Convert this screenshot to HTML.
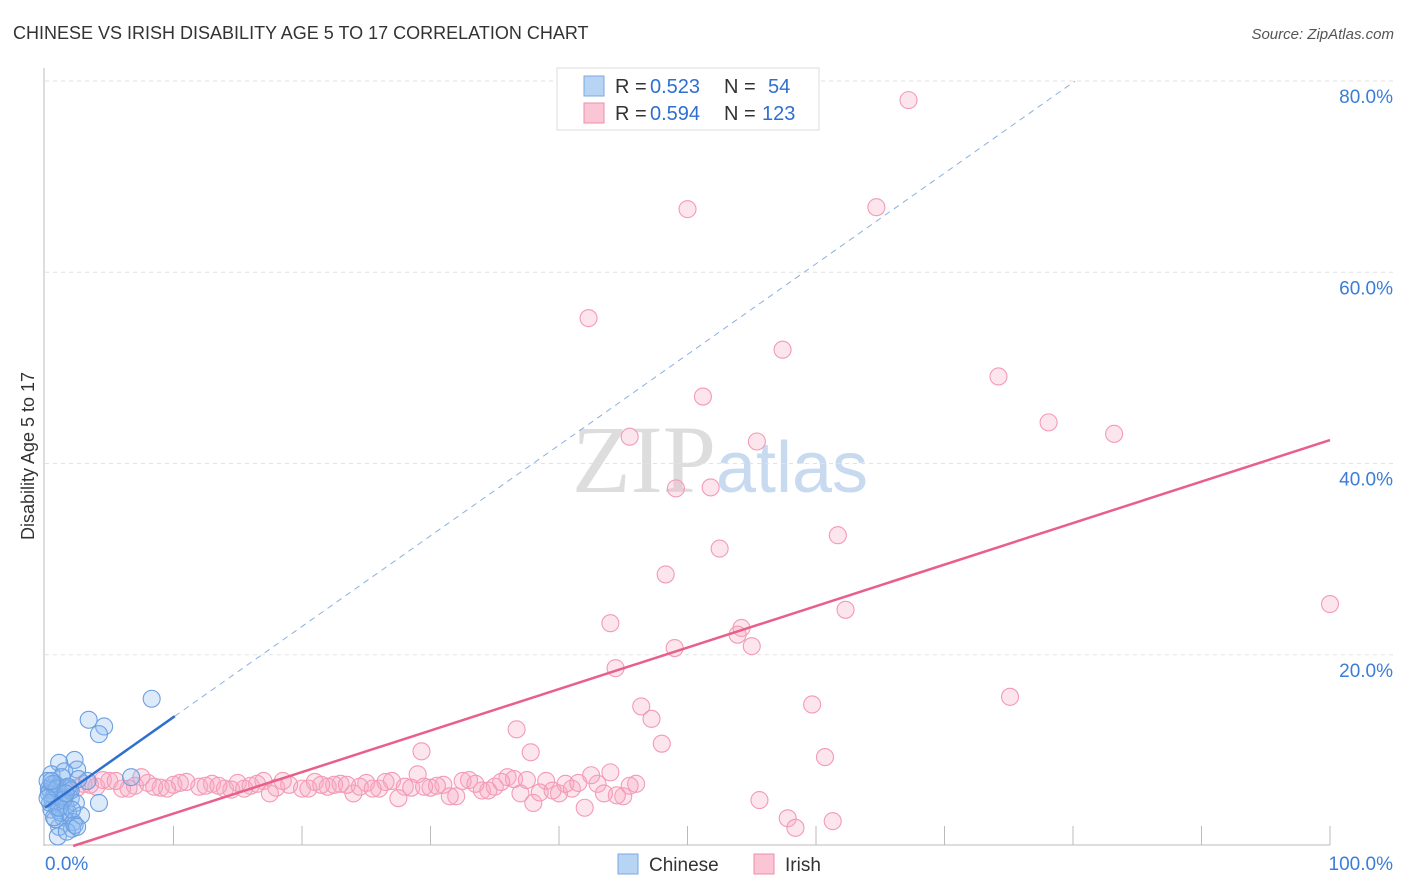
<!DOCTYPE html>
<html><head><meta charset="utf-8"><style>
body{margin:0;background:#fff;font-family:"Liberation Sans",sans-serif}
#wrap{position:relative;width:1406px;height:892px;overflow:hidden}
</style></head><body><div id="wrap">
<svg id="svg" width="1406" height="892" xmlns="http://www.w3.org/2000/svg">
<text x="13" y="39" font-size="18" fill="#333">CHINESE VS IRISH DISABILITY AGE 5 TO 17 CORRELATION CHART</text>
<text x="1394" y="39" font-size="15" fill="#555" font-style="italic" text-anchor="end">Source: ZipAtlas.com</text>
<text x="34" y="456" font-size="18" fill="#333" transform="rotate(-90 34 456)" text-anchor="middle">Disability Age 5 to 17</text>
<text x="720" y="492" font-size="96" fill="#ddd" text-anchor="middle" font-family="Liberation Serif,serif">ZIP<tspan fill="#c8daf0" font-family="Liberation Sans,sans-serif" font-size="72">atlas</tspan></text>
<g id="grid"></g><g id="marks"></g>
<g>
<rect x="557" y="68" width="262" height="62" fill="#fff" stroke="#ddd"/>
<rect x="584" y="76" width="20" height="20" fill="#b8d4f4" stroke="#7aa9e0"/>
<rect x="584" y="103" width="20" height="20" fill="#fac5d4" stroke="#ef8eaa"/>
<g font-size="20" fill="#333">
<text x="615" y="93">R =</text><text x="650" y="93" fill="#2f6fd0">0.523</text><text x="724" y="93">N =</text><text x="768" y="93" fill="#2f6fd0">54</text></g>
<g font-size="20" fill="#333">
<text x="615" y="120">R =</text><text x="650" y="120" fill="#2f6fd0">0.594</text><text x="724" y="120">N =</text><text x="762" y="120" fill="#2f6fd0">123</text></g>
</g>
<g>
<rect x="618" y="854" width="20" height="20" fill="#b8d4f4" stroke="#7aa9e0"/>
<text x="649" y="871" font-size="19" fill="#333">Chinese</text>
<rect x="754" y="854" width="20" height="20" fill="#fac5d4" stroke="#ef8eaa"/>
<text x="785" y="871" font-size="19" fill="#333">Irish</text>
</g>
</svg>
<script>
const yTicks=[20,40,60,80];
const yTickLabels=["20.0%","40.0%","60.0%","80.0%"];
const xTickLabels=["0.0%","100.0%"];
const chineseX=[8.3,3.4,4.6,4.2,2.3,1.1,6.7,4.2,3.3,0.5,0.8,1.2,1.5,2.0,2.5,0.3,0.6,1.0,1.8,2.2,0.4,0.9,1.4,2.6,0.2,0.7,1.6,2.1,1.3,0.5,1.1,1.9,2.4,0.3,0.8,1.5,2.8,1.0,0.6,1.7,2.3,0.4,1.2,2.0,0.9,1.4,0.2,1.8,2.5,0.7,1.1,1.6,0.5,2.1];
const chineseY=[15.4,13.2,12.5,11.7,9.0,8.7,7.2,4.5,6.8,7.5,6.5,5.5,7.8,5.0,8.0,6.0,4.8,6.2,3.5,2.5,5.8,4.0,3.0,7.0,6.8,5.2,4.2,1.8,7.2,3.8,2.0,6.0,4.5,5.5,2.8,5.0,3.2,1.0,6.5,1.5,2.2,4.5,3.5,5.8,6.0,4.8,5.0,6.2,2.0,3.0,4.0,5.5,6.8,3.8];
const irishX=[67.2,50.0,64.7,42.3,57.4,51.2,74.2,78.1,83.2,45.5,55.4,49.1,51.8,52.5,61.7,48.3,62.3,100,44.0,54.2,53.9,55.0,49.0,44.4,75.1,46.4,59.7,47.2,36.7,48.0,29.3,37.8,60.7,55.6,57.8,58.4,61.3,
1.5,3,4,5,6,7,8,9,10,11,12,13,14,15,16,17,18,19,20,21,22,23,24,25,26,27,28,29,30,31,32,33,34,35,36,37,38,39,40,41,42,43,44,45,46,2.5,3.5,4.5,6.5,8.5,10.5,12.5,14.5,16.5,18.5,20.5,22.5,24.5,26.5,28.5,30.5,32.5,34.5,36.5,38.5,40.5,42.5,44.5,5.5,9.5,13.5,17.5,21.5,25.5,29.5,33.5,37.5,41.5,45.5,7.5,15.5,23.5,31.5,35.5,39.5,43.5,27.5];
const irishY=[78.0,66.6,66.8,55.2,51.9,47.0,49.1,44.3,43.1,42.8,42.3,37.4,37.5,31.1,32.5,28.4,24.7,25.3,23.3,22.8,22.1,20.9,20.7,18.6,15.6,14.6,14.8,13.3,12.2,10.7,9.9,9.8,9.3,4.8,2.9,1.9,2.6,
6.0,6.5,6.2,6.8,6.0,6.3,6.6,6.1,6.4,6.7,6.2,6.5,6.0,6.6,6.3,6.8,6.1,6.4,6.0,6.7,6.2,6.5,5.5,6.6,6.0,6.8,6.2,7.5,6.1,6.4,5.2,6.9,5.8,6.2,7.2,5.5,4.5,6.8,5.5,6.0,4.0,6.5,7.7,5.2,6.5,6.1,6.4,6.9,6.0,6.2,6.6,6.3,5.9,6.5,6.8,6.0,6.4,6.2,6.7,6.1,6.3,6.8,5.8,7.0,5.6,6.5,7.4,5.3,6.8,6.0,6.3,5.5,6.4,6.0,6.2,6.5,6.9,6.6,6.3,7.2,6.0,6.4,5.2,6.7,5.8,5.5,5.0,6.0];
const blueLine=[4.0,0.948]; // intercept, slope
const pinkLine=[-0.95,0.434];
const X0=45,X1=1330,Y0=846,Y80=81;
const sx=v=>X0+(X1-X0)*v/100, sy=v=>Y0-(Y0-Y80)*v/80;
const NS="http://www.w3.org/2000/svg";
const grid=document.getElementById('grid'),marks=document.getElementById('marks');
function mk(tag,attrs,parent){const e=document.createElementNS(NS,tag);for(const k in attrs)e.setAttribute(k,attrs[k]);parent.appendChild(e);return e;}
yTicks.forEach((t,i)=>{
 const l=mk('line',{x1:X0,x2:1394,y1:sy(t),y2:sy(t),stroke:'#e2e2e2','stroke-dasharray':'4,4'},grid);
 
 
 const tx=mk('text',{x:1393,y:sy(t)+22,'font-size':19,fill:'#3b7dd8','text-anchor':'end'},grid);
 tx.textContent=yTickLabels[i];
 
 
});
const ax=mk('line',{x1:44,x2:44,y1:68,y2:846,stroke:'#bbb'},grid);


const bx=mk('line',{x1:44,x2:1330,y1:845,y2:845,stroke:'#bbb'},grid);


for(let i=1;i<=10;i++){const t=mk('line',{x1:sx(i*10),x2:sx(i*10),y1:826,y2:845,stroke:'#bbb'},grid);
 
 }
[[0,'start',45],[100,'end',1393]].forEach((d,i)=>{const t=mk('text',{x:d[2],y:870,'font-size':19,fill:'#3b7dd8','text-anchor':d[1]},grid);t.textContent=xTickLabels[i];
 
 });
irishX.forEach((x,i)=>{const c=mk('circle',{cx:sx(x),cy:sy(irishY[i]),r:8.5,fill:'rgba(248,170,195,0.3)',stroke:'#f39ab5','stroke-width':1.1},marks);
 
 });
chineseX.forEach((x,i)=>{const c=mk('circle',{cx:sx(x),cy:sy(chineseY[i]),r:8.5,fill:'rgba(140,185,240,0.3)',stroke:'#6a9fe2','stroke-width':1.1},marks);
 
 });
const bx2=(80-blueLine[0])/blueLine[1];
const bd=mk('line',{x1:sx(10.1),y1:sy(blueLine[0]+blueLine[1]*10.1),x2:sx(bx2),y2:sy(80),stroke:'#8ab0e0','stroke-dasharray':'6,5','stroke-width':1},marks);


const bl=mk('line',{x1:sx(0),y1:sy(blueLine[0]),x2:sx(10.1),y2:sy(blueLine[0]+blueLine[1]*10.1),stroke:'#2f6fd0','stroke-width':2.5},marks);


const px0=-pinkLine[0]/pinkLine[1];
const pl=mk('line',{x1:sx(px0),y1:sy(0),x2:sx(100),y2:sy(pinkLine[0]+pinkLine[1]*100),stroke:'#e8608a','stroke-width':2.5},marks);


</script></div></body></html>
